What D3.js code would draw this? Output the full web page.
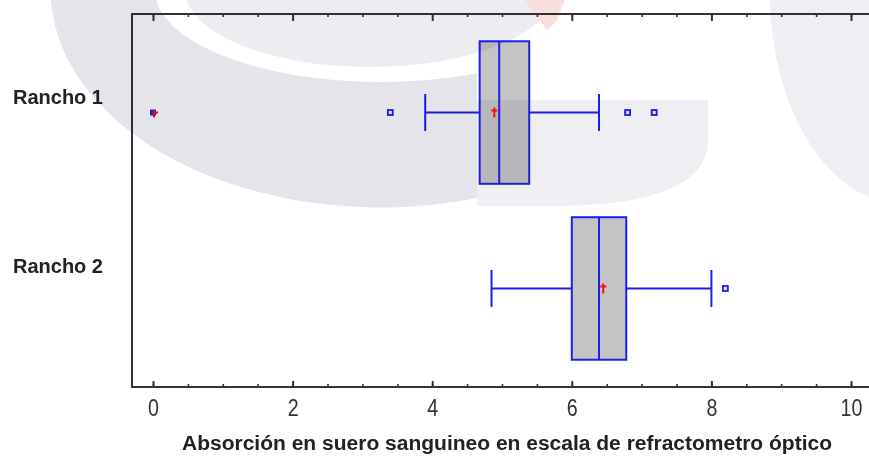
<!DOCTYPE html>
<html>
<head>
<meta charset="utf-8">
<script src="https://cdn.jsdelivr.net/npm/d3@7"></script>
<style>
  body { margin: 0; background: #fff; }
  text { font-family: "Liberation Sans", Arial, sans-serif; }
</style>
</head>
<body>
<script>
// box plot data
const categories = ["Rancho 1", "Rancho 2"];
const lowWhisker = [3.9, 4.85];
const q1 = [4.68, 6.0];
const median = [4.96, 6.39];
const q3 = [5.39, 6.78];
const highWhisker = [6.39, 8.0];
const means = [4.89, 6.45];
const outliers = [[3.4, 6.8, 7.18], [8.2]];
const farOutliers = [[0], []];
const majorTicks = [0, 2, 4, 6, 8, 10];
const minorTicks = d3.range(0, 10.01, 0.5);
const xLabel = "Absorción en suero sanguineo en escala de refractometro óptico";

const width = 869, height = 463;
let frame = {left: 132, right: 869, top: 14, bottom: 387};
let blue = "#1e1ef0";
let red = "#ff1010";
let axisColor = "#333";

const svg = d3.select("body").append("svg")
    .attr("width", width)
    .attr("height", height);

var x = d3.scaleLinear()
    .domain([0, 10])
    .range([153, 851]);

var y = d3.scalePoint()
    .domain(categories)
    .range([frame.top, frame.bottom])
    .padding(0.56);

// category labels sit a little above the box centres
var labelY = d3.scalePoint()
    .domain(categories)
    .range([104, 272.5]);

let step = y.step();
let boxH = step * 0.81;
let capH = step * 0.21;

// frame: left, top, bottom
svg.append("path")
   .attr("d", `M${frame.right},${frame.top}H${frame.left}V${frame.bottom}H${frame.right}`)
   .attr("fill", "none")
   .attr("stroke", axisColor)
   .attr("stroke-width", 2);

function styleAxis(g) {
	g.select(".domain").remove();
	g.selectAll(".tick line").attr("stroke", axisColor).attr("stroke-width", 1.6);
}

svg.append("g")
   .attr("transform", `translate(0, ${frame.bottom})`)
   .call(d3.axisBottom(x).tickValues(minorTicks).tickSize(-3).tickFormat(""))
   .call(styleAxis);

let bottomAxis = svg.append("g")
   .attr("transform", `translate(0, ${frame.bottom})`)
   .call(d3.axisBottom(x).tickValues(majorTicks).tickSize(-6).tickFormat(d3.format("d")))
   .call(styleAxis);

bottomAxis.selectAll(".tick line").attr("stroke-width", 2).attr("y1", 1);
bottomAxis.selectAll(".tick text")
   .attr("y", 29)
   .attr("dy", 0)
   .attr("fill", "#333")
   .attr("font-size", 24)
   .attr("transform", "scale(0.82,1)");

svg.append("g")
   .attr("transform", `translate(0, ${frame.top})`)
   .call(d3.axisTop(x).tickValues(minorTicks).tickSize(-3).tickFormat(""))
   .call(styleAxis);

svg.append("g")
   .attr("transform", `translate(0, ${frame.top})`)
   .call(d3.axisTop(x).tickValues(majorTicks).tickSize(-7).tickFormat(""))
   .call(styleAxis)
   .selectAll(".tick line").attr("stroke-width", 2);

// boxes
for (let i = 0; i < categories.length; i++) {
	let cy = y(categories[i]);
	let g = svg.append("g");

	g.append("path")
	 .attr("d", `M${x(lowWhisker[i])},${cy}H${x(q1[i])}M${x(q3[i])},${cy}H${x(highWhisker[i])}` +
	            `M${x(lowWhisker[i])},${cy - capH / 2}V${cy + capH / 2}` +
	            `M${x(highWhisker[i])},${cy - capH / 2}V${cy + capH / 2}`)
	 .attr("fill", "none")
	 .attr("stroke", blue)
	 .attr("stroke-width", 2);

	g.append("rect")
	 .attr("x", x(q1[i]))
	 .attr("y", cy - boxH / 2)
	 .attr("width", x(q3[i]) - x(q1[i]))
	 .attr("height", boxH)
	 .attr("fill", "#c4c4c4")
	 .attr("stroke", blue)
	 .attr("stroke-width", 2);

	g.append("line")
	 .attr("x1", x(median[i]))
	 .attr("x2", x(median[i]))
	 .attr("y1", cy - boxH / 2)
	 .attr("y2", cy + boxH / 2)
	 .attr("stroke", blue)
	 .attr("stroke-width", 2);

	g.selectAll(".outlier")
	 .data(outliers[i])
	 .enter().append("rect")
	 .attr("class", "outlier")
	 .attr("x", d => x(d) - 2.5)
	 .attr("y", cy - 2.5)
	 .attr("width", 5)
	 .attr("height", 5)
	 .attr("fill", "#e8e8ff")
	 .attr("stroke", blue)
	 .attr("stroke-width", 1.8);

	// far outside points: square with a plus
	g.selectAll(".far")
	 .data(farOutliers[i])
	 .enter().append("rect")
	 .attr("class", "far")
	 .attr("x", d => x(d) - 3)
	 .attr("y", cy - 3)
	 .attr("width", 6)
	 .attr("height", 6)
	 .attr("fill", blue);
	g.selectAll(".farPlus")
	 .data(farOutliers[i])
	 .enter().append("path")
	 .attr("class", "farPlus")
	 .attr("d", d => `M${x(d) - 1},${cy}H${x(d) + 5}M${x(d) + 1},${cy - 2}V${cy + 5}`)
	 .attr("stroke", red)
	 .attr("stroke-width", 2);

	g.append("path")
	 .attr("d", `M${x(means[i]) - 3},${cy - 2}H${x(means[i]) + 3}M${x(means[i])},${cy - 5}V${cy + 5}`)
	 .attr("stroke", red)
	 .attr("stroke-width", 2);

	svg.append("text")
	 .attr("x", 103)
	 .attr("y", labelY(categories[i]))
	 .attr("text-anchor", "end")
	 .attr("font-weight", "bold")
	 .attr("font-size", 20)
	 .attr("fill", "#222")
	 .text(categories[i]);
}

svg.append("text")
   .attr("x", 507)
   .attr("y", 450)
   .attr("text-anchor", "middle")
   .attr("font-weight", "bold")
   .attr("font-size", 20)
   .attr("textLength", 650)
   .attr("lengthAdjust", "spacingAndGlyphs")
   .attr("fill", "#222")
   .text(xLabel);

// faint watermark laid over the picture
let wm = svg.append("g").style("mix-blend-mode", "multiply");
wm.append("path")
  .attr("d", "M51,0A330,217 0 0,0 477,198V0Z")
  .attr("fill", "#e4e4ea");
wm.append("path")
  .attr("d", "M477,100H708V140Q708,204 560,206H477Z")
  .attr("fill", "#efeff3");
wm.append("ellipse").attr("cx", 381).attr("cy", -10).attr("rx", 226).attr("ry", 92).attr("fill", "#fff");
wm.append("ellipse").attr("cx", 370).attr("cy", -10).attr("rx", 185).attr("ry", 77).attr("fill", "#ededf1");
wm.append("ellipse").attr("cx", 905).attr("cy", -5).attr("rx", 135).attr("ry", 210).attr("fill", "#efeff3");
wm.append("path").attr("d", "M525,0L565,0L556,22L547,30Z").attr("fill", "#f9dede");
</script>
</body>
</html>
